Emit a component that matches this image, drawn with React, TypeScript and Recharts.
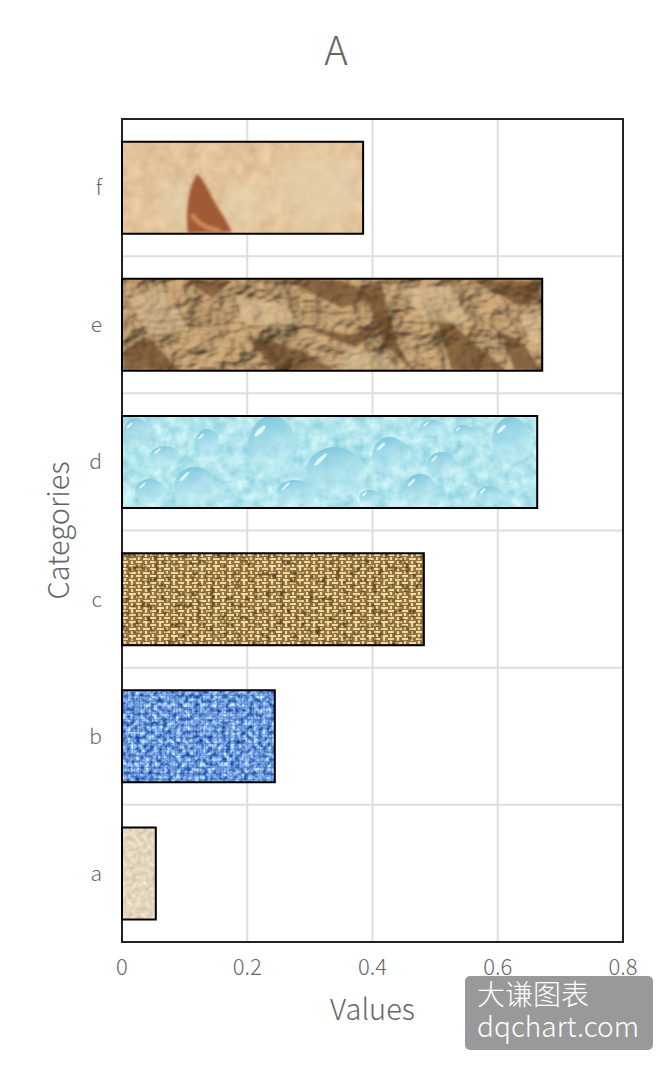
import {
  Bar,
  BarChart,
  CartesianGrid,
  Cell,
  ReferenceArea,
  XAxis,
  YAxis,
} from "recharts";

const categories = ["a", "b", "c", "d", "e", "f"];
const values = [0.054, 0.244, 0.482, 0.663, 0.671, 0.385];
const xTicks = [0, 0.2, 0.4, 0.6, 0.8];

const chartData = categories.map((name, i) => ({ name, value: values[i] }));

const FONT = '"Noto Sans CJK SC", "Noto Sans", sans-serif';
const TEXT = "#666666";
const GRID = "#dedede";

// water texture: cx, cy, rx, ry of each drop, page pixels
const drops = [
  [136, 433, 13, 15], [165, 456, 15, 10], [150, 492, 15, 13], [195, 486, 21, 19],
  [207, 444, 12, 15], [272, 446, 24, 30], [295, 492, 18, 12], [335, 472, 29, 25],
  [370, 498, 11, 8], [390, 456, 18, 19], [420, 491, 17, 17], [442, 465, 15, 13],
  [432, 428, 12, 8], [463, 433, 10, 8], [489, 496, 13, 10], [511, 441, 19, 24],
];

// dark shadow facets on the crumpled paper
const creases = [
  "M123 350 L150 338 L178 370 L123 370 Z", "M185 280 L232 281 L212 298 Z", "M245 335 L300 350 L335 370 L275 370 Z",
  "M285 280 L345 281 L375 298 L342 308 Z", "M362 290 L380 280 L398 345 L412 370 L385 345 Z",
  "M432 305 L470 340 L505 370 L452 370 Z", "M472 280 L540 281 L541 298 L520 306 Z",
  "M300 325 L350 335 L395 318 L355 348 Z", "M500 332 L525 345 L540 370 L515 370 Z",
];

// light ridges next to those facets
const ridges = [
  "M128 300 L160 285 L190 330 L150 335 Z", "M235 295 L285 305 L300 325 L245 325 Z",
  "M400 290 L450 285 L470 325 L425 320 Z", "M520 315 L541 310 L541 345 L528 340 Z",
  "M345 345 L385 355 L395 370 L340 370 Z",
];

function Textures() {
  return (
    <defs>
      <filter id="f-parchment" x="0" y="0" width="1" height="1" colorInterpolationFilters="sRGB">
        <feTurbulence type="fractalNoise" baseFrequency="0.07" numOctaves="3" seed="4" />
        <feColorMatrix values="0.16 0 0 0 0.81  0.16 0 0 0 0.68  0.16 0 0 0 0.52  0 0 0 0 1" />
      </filter>
      <filter id="f-blur" x="-30%" y="-30%" width="160%" height="160%">
        <feGaussianBlur stdDeviation="1.6" />
      </filter>
      <filter id="f-soft" x="-100%" y="-100%" width="300%" height="300%">
        <feGaussianBlur stdDeviation="11" />
      </filter>
      <filter id="f-crumple" x="0" y="0" width="1" height="1" colorInterpolationFilters="sRGB">
        <feTurbulence type="fractalNoise" baseFrequency="0.018 0.024" numOctaves="4" seed="11" />
        <feDiffuseLighting surfaceScale="11" diffuseConstant="1" lightingColor="#d2ac7b">
          <feDistantLight azimuth="215" elevation="58" />
        </feDiffuseLighting>
      </filter>
      <filter id="f-water" x="0" y="0" width="1" height="1" colorInterpolationFilters="sRGB">
        <feTurbulence type="fractalNoise" baseFrequency="0.09" numOctaves="3" seed="8" />
        <feColorMatrix values="0.4 0 0 0 0.5  0.22 0 0 0 0.79  0.14 0 0 0 0.86  0 0 0 0 1" />
      </filter>
      <filter id="f-speckle" x="0" y="0" width="1" height="1" colorInterpolationFilters="sRGB">
        <feTurbulence type="fractalNoise" baseFrequency="0.16" numOctaves="2" seed="5" />
        <feColorMatrix values="0 0 0 0 0.25  0 0 0 0 0.15  0 0 0 0 0.03  2 0 0 0 -1" />
      </filter>
      <filter id="f-denim" x="0" y="0" width="1" height="1" colorInterpolationFilters="sRGB">
        <feTurbulence type="fractalNoise" baseFrequency="0.22" numOctaves="2" seed="14" />
        <feColorMatrix values="1.3 0 0 0 -0.2  1.15 0 0 0 0.05  0.75 0 0 0 0.5  0 0 0 0 1" />
      </filter>
      <filter id="f-linen" x="0" y="0" width="1" height="1" colorInterpolationFilters="sRGB">
        <feTurbulence type="fractalNoise" baseFrequency="0.2" numOctaves="2" seed="2" />
        <feColorMatrix values="0.22 0 0 0 0.78  0.22 0 0 0 0.73  0.22 0 0 0 0.63  0 0 0 0 1" />
      </filter>
      <linearGradient id="drop" x1="0.3" y1="0" x2="0.6" y2="1">
        <stop offset="0" stopColor="#7cc6dc" />
        <stop offset="1" stopColor="#cdf0f6" stopOpacity="0.25" />
      </linearGradient>

      <pattern id="weave-c" patternUnits="userSpaceOnUse" width="14" height="14">
        <rect width="14" height="14" fill="#94743c" />
        <g stroke="#f0dba6" strokeWidth="2.2">
          <path d="M0 2 H6 M7 6 H14 M0 9 H6 M7 13 H14" />
          <path d="M10 0 V4 M3 4 V7 M10 8 V11 M3 11 V14" />
        </g>
      </pattern>
      <pattern id="weave-b" patternUnits="userSpaceOnUse" width="6" height="6">
        <path d="M0 5.5 H6 M5.5 0 V6" stroke="#2f5398" strokeWidth="1" opacity="0.3" />
      </pattern>

      <pattern id="tex-a" patternUnits="userSpaceOnUse" x="122" y="827" width="34" height="92">
        <rect width="34" height="92" filter="url(#f-linen)" />
      </pattern>
      <pattern id="tex-b" patternUnits="userSpaceOnUse" x="122" y="690" width="153" height="92">
        <rect width="153" height="92" filter="url(#f-denim)" />
        <rect width="153" height="92" fill="url(#weave-b)" />
      </pattern>
      <pattern id="tex-c" patternUnits="userSpaceOnUse" x="122" y="553" width="302" height="92">
        <rect width="302" height="92" fill="url(#weave-c)" />
        <rect width="302" height="92" filter="url(#f-speckle)" />
      </pattern>
      <pattern id="tex-d" patternUnits="userSpaceOnUse" x="0" y="0" width="672" height="1069">
        <rect x="122" y="416" width="415" height="92" filter="url(#f-water)" />
        {drops.map(([cx, cy, rx, ry]) => (
          <g key={`${cx}-${cy}`}>
            <ellipse cx={cx} cy={cy} rx={rx} ry={ry} fill="url(#drop)" />
            <ellipse
              cx={cx - rx * 0.5}
              cy={cy - ry * 0.5}
              rx={rx * 0.3}
              ry={Math.max(ry * 0.08, 1)}
              fill="#f2fdff"
              opacity="0.8"
              transform={`rotate(-45 ${cx - rx * 0.5} ${cy - ry * 0.5})`}
            />
          </g>
        ))}
      </pattern>
      <pattern id="tex-e" patternUnits="userSpaceOnUse" x="0" y="0" width="672" height="1069">
        <rect x="122" y="279" width="420" height="92" filter="url(#f-crumple)" />
        <g filter="url(#f-blur)">
          {creases.map((d) => (
            <path key={d} d={d} fill="#5d3d1c" opacity="0.6" />
          ))}
          {ridges.map((d) => (
            <path key={d} d={d} fill="#e6cba0" opacity="0.5" />
          ))}
        </g>
      </pattern>
      <pattern id="tex-f" patternUnits="userSpaceOnUse" x="0" y="0" width="672" height="1069">
        <rect x="122" y="142" width="241" height="92" filter="url(#f-parchment)" />
        <ellipse cx={178} cy={205} rx={14} ry={26} fill="#dcd5b8" opacity="0.6" filter="url(#f-soft)" />
        <ellipse cx={245} cy={205} rx={22} ry={22} fill="#e4d8b4" opacity="0.7" filter="url(#f-soft)" />
        <ellipse cx={320} cy={190} rx={42} ry={40} fill="#e2d2ad" opacity="0.7" filter="url(#f-soft)" />
        <path
          d="M197 174 C205 180 212 200 222 214 L232 232 L188 233 C186 215 187 190 197 174 Z"
          fill="#a05a36"
          filter="url(#f-blur)"
        />
        <path d="M192 214 C196 222 205 228 220 231" stroke="#d08a58" strokeWidth="5" fill="none" filter="url(#f-blur)" />
      </pattern>
    </defs>
  );
}

export default function App() {
  return (
    <div style={{ position: "absolute", left: 0, top: 0, width: 672, height: 1069, background: "#fff" }}>
      <BarChart
        width={672}
        height={1069}
        data={chartData}
        layout="vertical"
        barCategoryGap="16.5%"
        margin={{ top: 119, right: 49, bottom: 47, left: -4 }}
      >
        <Textures />
        <text x={336} y={65} textAnchor="middle" fontFamily={FONT} fontWeight={300} fontSize={40} fill={TEXT}>
          A
        </text>
        <CartesianGrid
          stroke={GRID}
          strokeWidth={2}
          horizontalCoordinatesGenerator={({ offset }) =>
            categories.slice(1).map((_, i) => offset.top + ((i + 1) * offset.height) / categories.length)
          }
        />
        <XAxis
          type="number"
          domain={[0, 0.8]}
          ticks={xTicks}
          height={80}
          axisLine={false}
          tickLine={false}
          tickMargin={11}
          tick={{ fontSize: 22, fill: TEXT, fontFamily: FONT, fontWeight: 300 }}
          label={{
            value: "Values",
            position: "insideBottom",
            offset: 2,
            fontSize: 29,
            fill: TEXT,
            fontFamily: FONT,
            fontWeight: 300,
          }}
        />
        <YAxis
          type="category"
          dataKey="name"
          reversed
          width={126}
          axisLine={false}
          tickLine={false}
          tickMargin={14}
          tick={{ fontSize: 21, fill: TEXT, fontFamily: FONT, fontWeight: 300 }}
          label={{
            value: "Categories",
            angle: -90,
            position: "center",
            fontSize: 29,
            fill: TEXT,
            fontFamily: FONT,
            fontWeight: 300,
          }}
        />
        <Bar dataKey="value" stroke="#000" strokeWidth={2} isAnimationActive={false}>
          {chartData.map((d) => (
            <Cell key={d.name} fill={`url(#tex-${d.name})`} />
          ))}
        </Bar>
        <ReferenceArea x1={0} x2={0.8} fill="none" stroke="#222" strokeWidth={2} ifOverflow="visible" />
      </BarChart>
      <div
        style={{
          position: "absolute",
          left: 465,
          top: 976,
          width: 188,
          height: 74,
          background: "#999999",
          borderRadius: 5,
          color: "#fff",
          fontFamily: FONT,
          fontWeight: 300,
          fontSize: 28,
          lineHeight: "32px",
          padding: "1px 0 0 12px",
          boxSizing: "border-box",
        }}
      >
        大谦图表
        <br />
        dqchart.com
      </div>
    </div>
  );
}
